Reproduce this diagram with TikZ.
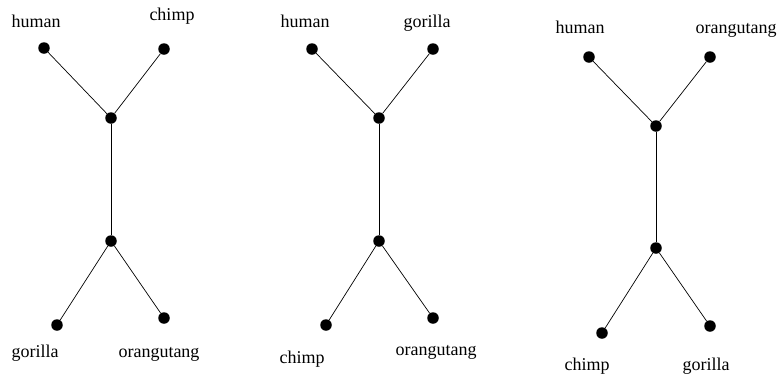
\documentclass[tikz,border=0pt]{standalone}
\usepackage{fontspec}
\setmainfont{Liberation Serif}
\begin{document}
\begin{tikzpicture}[x=1pt,y=-1pt,
  dot/.style={circle,fill=black,inner sep=0pt,minimum size=11.5pt},
  lbl/.style={anchor=base,inner sep=0pt,font=\fontsize{18}{21}\selectfont},
  edge/.style={line width=0.7pt}]
\useasboundingbox (0,0) rectangle (778,373);
% tree 1
\node[dot] (a1) at (44,48) {};
\node[dot] (b1) at (164,49) {};
\node[dot] (u1) at (111,118) {};
\node[dot] (l1) at (111,241) {};
\node[dot] (c1) at (57,325) {};
\node[dot] (d1) at (164,318) {};
\draw[edge] (a1) -- (u1) -- (b1);
\draw[edge] (u1) -- (l1);
\draw[edge] (c1) -- (l1) -- (d1);
\node[lbl] (ta1) at (36,27) {human};
\node[lbl] (tb1) at (172,20) {chimp};
\node[lbl] (tc1) at (35,357) {gorilla};
\node[lbl] (td1) at (159,357) {orangutang};
% tree 2
\node[dot] (a2) at (312,49) {};
\node[dot] (b2) at (433,49) {};
\node[dot] (u2) at (379,118) {};
\node[dot] (l2) at (379,241) {};
\node[dot] (c2) at (326,325) {};
\node[dot] (d2) at (433,318) {};
\draw[edge] (a2) -- (u2) -- (b2);
\draw[edge] (u2) -- (l2);
\draw[edge] (c2) -- (l2) -- (d2);
\node[lbl] (ta2) at (305,27) {human};
\node[lbl] (tb2) at (427,27) {gorilla};
\node[lbl] (tc2) at (302,363) {chimp};
\node[lbl] (td2) at (436,355) {orangutang};
% tree 3
\node[dot] (a3) at (589,57) {};
\node[dot] (b3) at (710,57) {};
\node[dot] (u3) at (656,126) {};
\node[dot] (l3) at (656,248) {};
\node[dot] (c3) at (602,333) {};
\node[dot] (d3) at (710,326) {};
\draw[edge] (a3) -- (u3) -- (b3);
\draw[edge] (u3) -- (l3);
\draw[edge] (c3) -- (l3) -- (d3);
\node[lbl] (ta3) at (580,33) {human};
\node[lbl] (tb3) at (736,33) {orangutang};
\node[lbl] (tc3) at (587,370) {chimp};
\node[lbl] (td3) at (706,370) {gorilla};
\end{tikzpicture}
\end{document}
